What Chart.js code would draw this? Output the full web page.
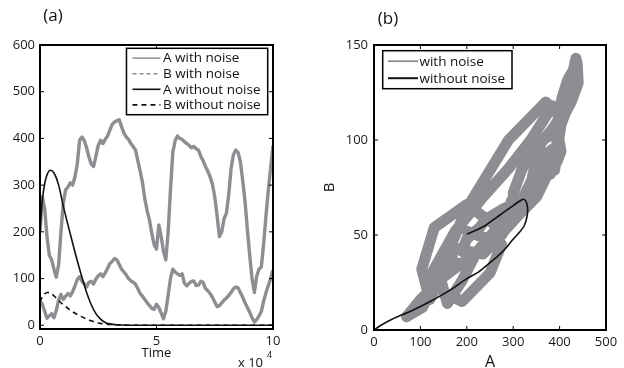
<!DOCTYPE html>
<html><head><meta charset="utf-8">
<script src="https://cdn.jsdelivr.net/npm/chart.js@4.4.1/dist/chart.umd.min.js"></script>
<style>
html,body{margin:0;padding:0;background:#fff;}
#wrap{position:relative;width:624px;height:368px;overflow:hidden;background:#fff;}
canvas{position:absolute;top:0;}
#c1{left:0;} #c2{left:312px;}
</style></head><body>
<div id="wrap"><canvas id="c1" width="312" height="368"></canvas><canvas id="c2" width="312" height="368"></canvas></div>
<script>
// ---------- data (time in units of 10^4) ----------
const time = [0,0.1,0.2,0.3,0.4,0.5,0.6,0.7,0.8,0.9,1,1.1,1.2,1.3,1.4,1.5,1.6,1.7,1.8,1.9,2,2.1,2.2,2.3,2.4,2.5,2.6,2.7,2.8,2.9,3,3.1,3.2,3.3,3.4,3.5,3.6,3.7,3.8,3.9,4,4.1,4.2,4.3,4.4,4.5,4.6,4.7,4.8,4.9,5,5.1,5.2,5.3,5.4,5.5,5.6,5.7,5.8,5.9,6,6.1,6.2,6.3,6.4,6.5,6.6,6.7,6.8,6.9,7,7.1,7.2,7.3,7.4,7.5,7.6,7.7,7.8,7.9,8,8.1,8.2,8.3,8.4,8.5,8.6,8.7,8.8,8.9,9,9.1,9.2,9.3,9.4,9.5,9.6,9.7,9.8,9.9,10];
const aNoise = [200,275,250,190,150,140,120,103,130,200,262,290,296,305,300,318,345,396,403,395,380,360,345,340,362,385,396,389,398,405,418,430,435,438,440,425,412,403,398,389,382,375,352,330,305,270,245,225,196,172,163,215,190,158,140,200,290,370,395,405,400,398,393,389,385,380,383,378,375,362,352,340,330,318,302,275,235,190,200,228,240,280,335,365,375,370,350,310,265,205,150,100,70,105,120,125,175,235,290,338,385];
const bNoise = [52,45,30,15,20,25,16,32,54,66,55,62,68,63,72,84,98,104,94,89,82,92,94,88,99,106,110,104,112,122,132,137,143,140,130,120,114,108,100,95,92,88,78,68,62,55,48,42,36,34,45,38,26,14,30,64,100,120,114,110,107,110,90,84,90,94,95,85,86,94,92,79,74,68,60,50,40,42,48,54,58,64,70,78,82,80,70,60,48,38,28,16,7,12,20,30,52,70,85,100,118];
const detTime = [0,0.05,0.1,0.2,0.3,0.45,0.6,0.8,1,1.2,1.4,1.6,1.8,2,2.2,2.4,2.6,2.8,3,3.3,3.7,4.5,6,8,10];
const aDet = [200,240,268,303,322,332,326,300,255,215,176,138,103,70,44,25,13,6,3,1,0,0,0,0,0];
const bDet = [50,56,61,67,70,69,63,53,44,36,29,23,18,13.5,9.5,6.5,4,2.5,1.5,0.7,0.2,0,0,0,0];
const phaseA = [200,220,240,260,280,300,315,322,328,331,330,324,312,297,282,265,250,225,200,164,121,80,40,15,0];
const phaseB = [50.5,52.5,55,58.5,62,65.5,68,68.8,67.5,64,60,55,51,47,42.5,38.5,35.5,30.5,27,21,15,10,5.8,2.5,0];
const timeTicks = [0,5,10];
const countTicks = [0,100,200,300,400,500,600];
const phaseATicks = [0,100,200,300,400,500];
const phaseBTicks = [0,50,100,150];

// ---------- styling ----------
const FONT = '"Open Sans", "Noto Sans", sans-serif';
const GRAY = '#8e8e92';
const INK = '#111';
Chart.defaults.font.family = FONT;
Chart.defaults.color = '#1a1a1a';

function boxPlugin(tickLen) {
  return { id: 'box', afterDraw(chart) {
    const {ctx, chartArea: a, scales} = chart;
    ctx.save();
    ctx.strokeStyle = '#000';
    ctx.lineWidth = 1;
    ctx.beginPath();
    scales.x.ticks.forEach(t => { const p = scales.x.getPixelForValue(t.value);
      ctx.moveTo(p, a.bottom); ctx.lineTo(p, a.bottom - tickLen);
      ctx.moveTo(p, a.top); ctx.lineTo(p, a.top + tickLen); });
    scales.y.ticks.forEach(t => { const p = scales.y.getPixelForValue(t.value);
      ctx.moveTo(a.left, p); ctx.lineTo(a.left + tickLen, p);
      ctx.moveTo(a.right, p); ctx.lineTo(a.right - tickLen, p); });
    ctx.stroke();
    ctx.lineWidth = 2;
    ctx.strokeRect(a.left, a.top, a.right - a.left, a.bottom - a.top);
    ctx.restore();
  }};
}
function legendPlugin(o) {
  return { id: 'legendBox', afterDraw(chart) {
    const {ctx, chartArea: a} = chart;
    const ds = chart.data.datasets;
    ctx.save();
    ctx.font = o.fontSize + 'px ' + FONT;
    const tw = Math.max(...ds.map(d => ctx.measureText(d.label).width));
    const w = o.padL + o.lineLen + o.gap + tw + o.padR;
    const h = o.padT + o.rowH * ds.length + o.padB;
    const x = o.right ? a.right - o.offX - w : a.left + o.offX;
    const y = a.top + o.offY;
    ctx.fillStyle = '#fff'; ctx.fillRect(x, y, w, h);
    ctx.lineWidth = 1.5; ctx.strokeStyle = '#000'; ctx.strokeRect(x, y, w, h);
    ds.forEach((d, i) => {
      const cy = y + o.padT + o.rowH * (i + 0.5);
      ctx.beginPath();
      ctx.setLineDash(d.legendDash || []);
      ctx.strokeStyle = d.borderColor; ctx.lineWidth = d.legendWidth || 1.6;
      ctx.moveTo(x + o.padL, cy); ctx.lineTo(x + o.padL + o.lineLen, cy); ctx.stroke();
      ctx.setLineDash([]);
      ctx.fillStyle = '#111'; ctx.textBaseline = 'middle'; ctx.textAlign = 'left';
      ctx.fillText(d.label, x + o.padL + o.lineLen + o.gap, cy + 0.5);
    });
    ctx.restore();
  }};
}
function labelsPlugin(items) {
  return { id: 'labels', afterDraw(chart) {
    const {ctx, chartArea: a} = chart;
    ctx.save();
    ctx.fillStyle = '#111';
    items.forEach(it => {
      const [x, y] = it.pos(a);
      ctx.save();
      ctx.font = it.size + 'px ' + FONT;
      ctx.textAlign = it.align || 'center';
      ctx.textBaseline = 'middle';
      ctx.translate(x, y);
      if (it.rot) ctx.rotate(it.rot);
      ctx.fillText(it.text, 0, 0);
      ctx.restore();
    });
    ctx.restore();
  }};
}
function axis(ticksArr, min, max, fitProp, fitVal, pad) {
  return {
    type: 'linear', min, max,
    afterBuildTicks: s => { s.ticks = ticksArr.map(v => ({value: v})); },
    afterFit: s => { s[fitProp] = fitVal; },
    grid: {display: false, drawTicks: false},
    border: {display: false},
    ticks: {font: {size: 13, family: FONT}, color: '#1a1a1a', padding: pad, maxRotation: 0, autoSkip: false}
  };
}
const pairs = (xs, ys) => xs.map((v, i) => ({x: v, y: ys[i]}));

// ---------- (a) time series ----------
new Chart(document.getElementById('c1'), {
  type: 'line',
  data: { datasets: [
    {label: 'A with noise', data: pairs(time, aNoise), borderColor: GRAY, borderWidth: 3.4, pointRadius: 0, tension: 0, borderJoinStyle: 'round', order: 2, legendWidth: 1.5},
    {label: 'B with noise', data: pairs(time, bNoise), borderColor: GRAY, borderWidth: 3.4, pointRadius: 0, tension: 0, borderJoinStyle: 'round', order: 2, legendWidth: 1.5, legendDash: [4, 3]},
    {label: 'A without noise', data: pairs(detTime, aDet), borderColor: INK, borderWidth: 1.6, pointRadius: 0, cubicInterpolationMode: 'monotone', order: 1},
    {label: 'B without noise', data: pairs(detTime, bDet), borderColor: INK, borderWidth: 1.6, borderDash: [5, 4], pointRadius: 0, cubicInterpolationMode: 'monotone', order: 1, legendDash: [5, 4]}
  ]},
  options: {
    responsive: false, animation: false, devicePixelRatio: 1,
    layout: {padding: {left: 0, right: 39, top: 45, bottom: 0}},
    scales: {
      x: axis(timeTicks, 0, 10, 'height', 39, 4),
      y: axis(countTicks, -8, 600, 'width', 40, 5)
    },
    plugins: {legend: {display: false}, tooltip: {enabled: false}}
  },
  plugins: [boxPlugin(4), legendPlugin({fontSize: 13.5, padL: 6, lineLen: 28, gap: 2.5, padR: 7, padT: 2, padB: 2, rowH: 15.6, offX: 5.3, offY: 3.3, right: true}),
    labelsPlugin([
      {text: '(a)', size: 17, pos: a => [a.left + 13, a.top - 29]},
      {text: 'Time', size: 13, pos: a => [(a.left + a.right) / 2, a.bottom + 24]},
      {text: 'x 10', size: 13, align: 'left', pos: a => [a.right - 35, a.bottom + 34]},
      {text: '4', size: 9, align: 'left', pos: a => [a.right - 6, a.bottom + 26]}
    ])]
});

// ---------- (b) phase plane ----------
new Chart(document.getElementById('c2'), {
  type: 'line',
  data: { datasets: [
    {label: 'with noise', data: pairs(aNoise, bNoise), borderColor: GRAY, borderWidth: 11, pointRadius: 0, tension: 0, borderJoinStyle: 'round', borderCapStyle: 'round', order: 2, legendWidth: 1.8},
    {label: 'without noise', data: pairs(phaseA, phaseB), borderColor: INK, borderWidth: 1.6, pointRadius: 0, tension: 0.3, order: 1, legendWidth: 2}
  ]},
  options: {
    responsive: false, animation: false, devicePixelRatio: 1,
    layout: {padding: {left: 0, right: 18, top: 45, bottom: 0}},
    scales: {
      x: axis(phaseATicks, 0, 500, 'height', 38, 4),
      y: axis(phaseBTicks, 0, 150, 'width', 62, 6)
    },
    plugins: {legend: {display: false}, tooltip: {enabled: false}}
  },
  plugins: [boxPlugin(4), legendPlugin({fontSize: 13.5, padL: 5.3, lineLen: 30, gap: 1.5, padR: 7, padT: 2, padB: 2, rowH: 17, offX: 8.7, offY: 5.7, right: false}),
    labelsPlugin([
      {text: '(b)', size: 17, pos: a => [a.left + 14, a.top - 26]},
      {text: 'A', size: 16, pos: a => [(a.left + a.right) / 2, a.bottom + 32]},
      {text: 'B', size: 15, rot: -Math.PI / 2, pos: a => [a.left - 44, (a.top + a.bottom) / 2]}
    ])]
});
</script>
</body></html>
